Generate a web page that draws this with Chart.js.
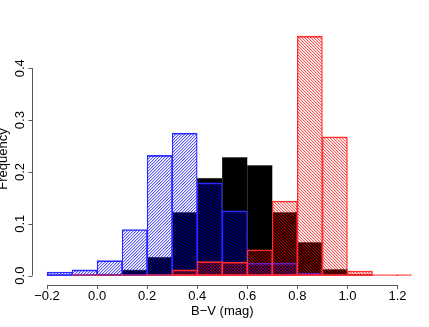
<!DOCTYPE html>
<html>
<head>
<meta charset="utf-8">
<script src="https://cdn.jsdelivr.net/npm/chart.js@4/dist/chart.umd.min.js"></script>
<style>
html, body { margin: 0; padding: 0; background: #fff; }
#wrap { width: 429px; height: 327px; }
</style>
</head>
<body>
<div id="wrap"><canvas id="chart"></canvas></div>
<script>
// bins of 0.1 mag, given by their centres
const binCenters = [-0.25, -0.15, -0.05, 0.05, 0.15, 0.25, 0.35, 0.45, 0.55, 0.65, 0.75, 0.85, 0.95, 1.05, 1.15, 1.25];
const blueFreq  = [0, 0.007, 0.011, 0.029, 0.089, 0.232, 0.275, 0.179, 0.125, 0.024, 0.024, 0.005, 0.002, 0, 0, 0];
const blackFreq = [0, 0, 0.001, 0.003, 0.011, 0.036, 0.122, 0.188, 0.228, 0.213, 0.122, 0.064, 0.012, 0.003, 0, 0];
const redFreq   = [0, 0, 0.002, 0.002, 0.002, 0.003, 0.011, 0.027, 0.026, 0.050, 0.144, 0.462, 0.268, 0.009, 0.002, 0.002];

const xTicks = [-0.2, 0, 0.2, 0.4, 0.6, 0.8, 1.0, 1.2];
const yTicks = [0, 0.1, 0.2, 0.3, 0.4];

const fontFam = '"Liberation Sans", Arial, Helvetica, sans-serif';
Chart.defaults.font.family = fontFam;

// small diagonal hatch tile, dir 1 = "/" , -1 = "\"
function hatch(color, dir) {
    let c = document.createElement('canvas');
    c.width = 3; c.height = 3;
    let g = c.getContext('2d');
    g.fillStyle = color;
    for (let x = 0; x < 3; x++) {
        for (let y = 0; y < 3; y++) {
            let k = dir > 0 ? (x + y) % 3 : ((x - y) % 3 + 3) % 3;
            if (k === 0) g.globalAlpha = 0.65;
            else if (k === 1) g.globalAlpha = 0.2;
            else continue;
            g.fillRect(x, y, 1, 1);
        }
    }
    return g.createPattern(c, 'repeat');
}

const pts = arr => binCenters.map((x, i) => ({ x: x, y: arr[i] }));

// draws the R style axis lines, y ticks and y labels
const rAxes = {
    id: 'rAxes',
    afterDraw(chart) {
        const { ctx, chartArea: a } = chart;
        const x = chart.scales.x, y = chart.scales.y;
        ctx.save();
        ctx.strokeStyle = '#555';
        ctx.lineWidth = 1;

        let by = Math.round(a.bottom) + 0.5;
        ctx.beginPath();
        ctx.moveTo(x.getPixelForValue(xTicks[0]), by);
        ctx.lineTo(x.getPixelForValue(xTicks[xTicks.length - 1]), by);
        ctx.stroke();

        let lx = Math.round(a.left) - 0.5;
        ctx.beginPath();
        ctx.moveTo(lx, y.getPixelForValue(yTicks[0]));
        ctx.lineTo(lx, y.getPixelForValue(yTicks[yTicks.length - 1]));
        yTicks.forEach(v => {
            let py = Math.round(y.getPixelForValue(v)) + 0.5;
            ctx.moveTo(lx, py);
            ctx.lineTo(lx - 4, py);
        });
        ctx.stroke();

        ctx.fillStyle = '#000';
        ctx.font = '13px ' + fontFam;
        ctx.textAlign = 'center';
        ctx.textBaseline = 'alphabetic';
        yTicks.forEach(v => {
            ctx.save();
            ctx.translate(24, y.getPixelForValue(v));
            ctx.rotate(-Math.PI / 2);
            ctx.fillText(v.toFixed(1), 0, 0);
            ctx.restore();
        });

        ctx.translate(7, (a.top + a.bottom) / 2 + 3);
        ctx.rotate(-Math.PI / 2);
        ctx.fillText('Frequency', 0, 0);
        ctx.restore();
    }
};

let ctx = document.getElementById('chart');

let grafica = new Chart(ctx, {
    type: 'bar',
    data: {
        datasets: [
            {
                label: 'red',
                data: pts(redFreq),
                backgroundColor: hatch('#ff0000', -1),
                borderColor: '#ff3030',
                order: 0
            },
            {
                label: 'blue',
                data: pts(blueFreq),
                backgroundColor: hatch('#0000ff', 1),
                borderColor: '#3030ff',
                order: 1
            },
            {
                label: 'black',
                data: pts(blackFreq),
                backgroundColor: '#000',
                borderColor: '#555',
                order: 2
            }
        ]
    },
    options: {
        animation: false,
        responsive: true,
        maintainAspectRatio: false,
        layout: { padding: { left: 33, top: 27, right: 17.5, bottom: 9.5 } },
        datasets: {
            bar: {
                grouped: false,
                barPercentage: 1,
                categoryPercentage: 1,
                borderWidth: { top: 1, bottom: 1, left: 0.6, right: 0.6 },
                borderSkipped: false
            }
        },
        plugins: {
            legend: { display: false },
            tooltip: { enabled: false }
        },
        scales: {
            x: {
                type: 'linear',
                offset: false,
                min: -0.256,
                max: 1.256,
                afterBuildTicks: s => { s.ticks = xTicks.map(v => ({ value: v })); },
                border: { display: false },
                grid: { offset: false, drawOnChartArea: false, tickLength: 4, color: '#555' },
                ticks: {
                    color: '#000',
                    font: { size: 13 },
                    padding: 0,
                    autoSkip: false,
                    maxRotation: 0,
                    callback: v => v.toFixed(1).replace('-', '\u2212')
                },
                title: {
                    display: true,
                    text: 'B\u2212V (mag)',
                    color: '#000',
                    font: { size: 13, lineHeight: 1 },
                    padding: { top: 0, bottom: 0 }
                }
            },
            y: {
                display: false,
                min: -0.0179,
                max: 0.4797
            }
        }
    },
    plugins: [rAxes]
});
</script>
</body>
</html>
